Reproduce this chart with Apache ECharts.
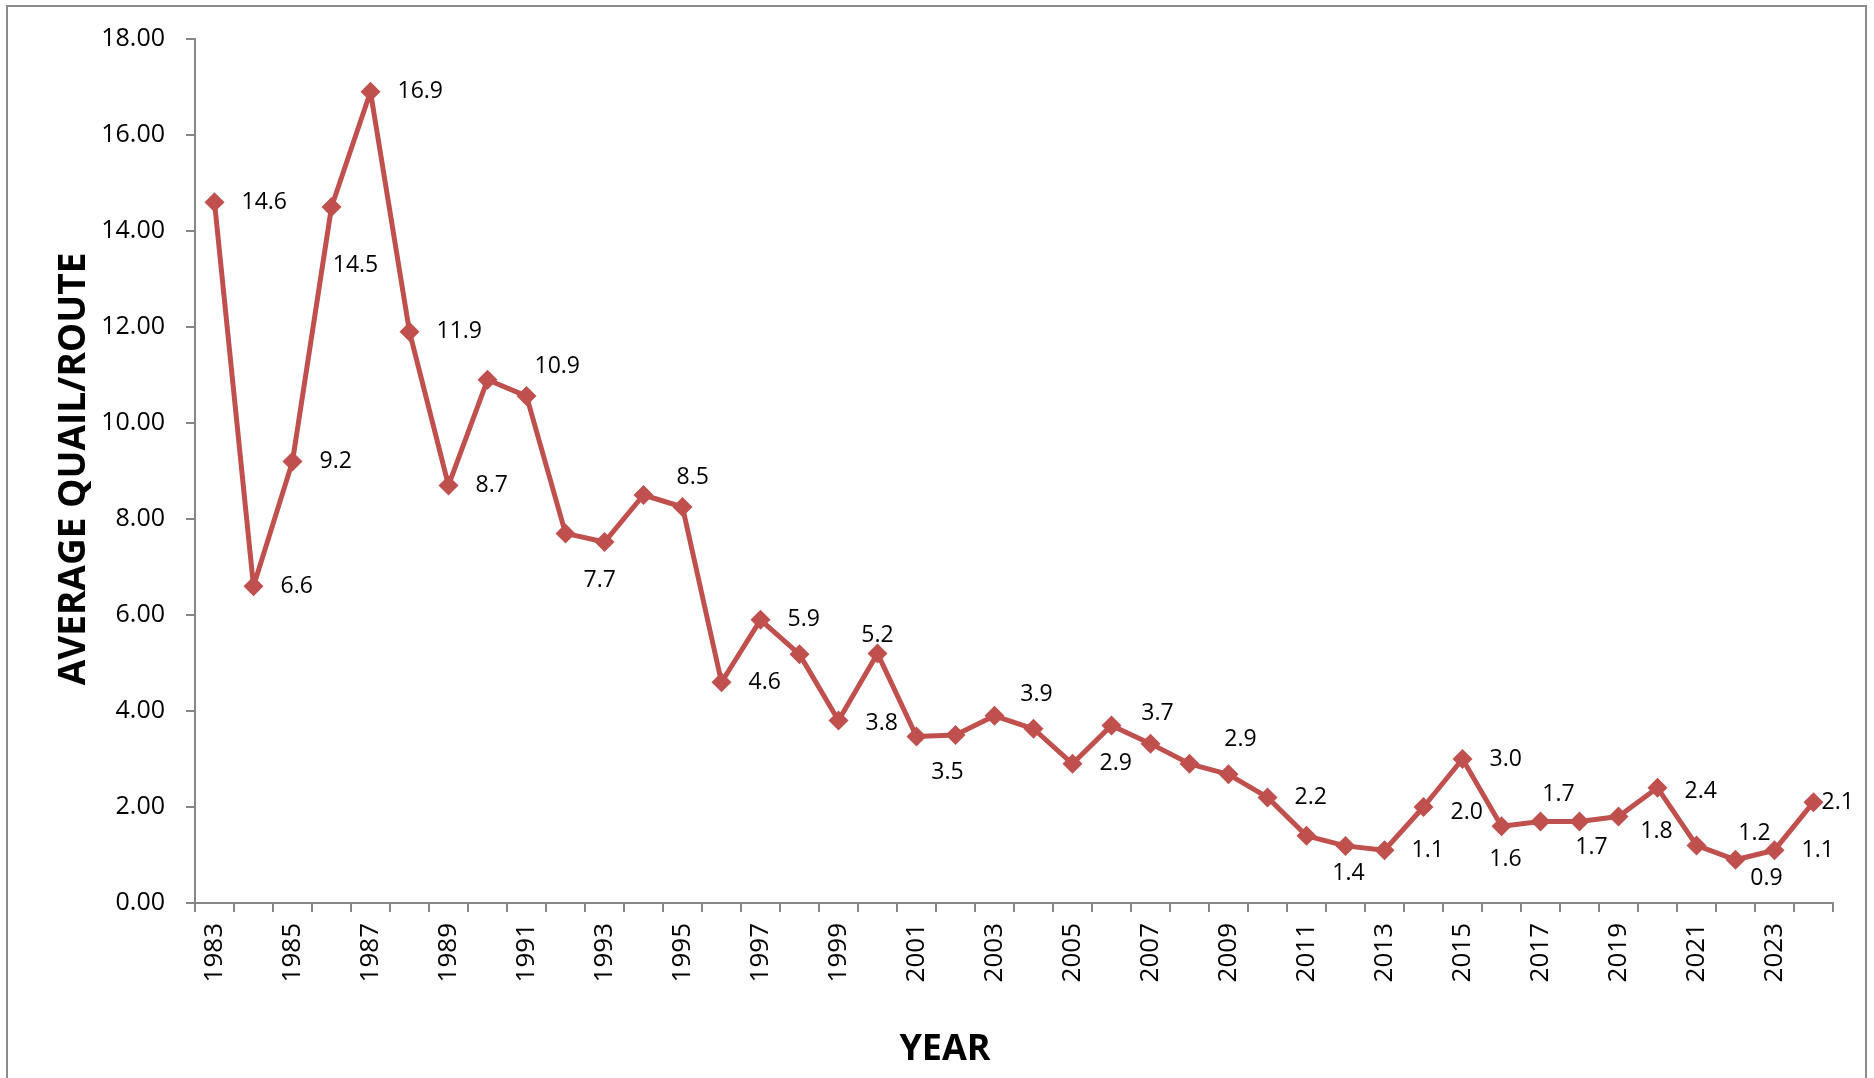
<!DOCTYPE html>
<html>
<head>
<meta charset="utf-8">
<title>Average Quail per Route</title>
<script src="https://cdn.jsdelivr.net/npm/echarts@6/dist/echarts.min.js"></script>
<style>
  html, body { margin: 0; padding: 0; background: #fff; }
  #chart { width: 1874px; height: 1078px; }
</style>
</head>
<body>
<div id="chart"></div>
<script>
// Survey years
const years = [
  '1983', '1984', '1985', '1986', '1987', '1988', '1989', '1990', '1991', '1992',
  '1993', '1994', '1995', '1996', '1997', '1998', '1999', '2000', '2001', '2002',
  '2003', '2004', '2005', '2006', '2007', '2008', '2009', '2010', '2011', '2012',
  '2013', '2014', '2015', '2016', '2017', '2018', '2019', '2020', '2021', '2022',
  '2023', '2024'
];

// Average number of quail counted per route
const quailPerRoute = [
  14.6, 6.6, 9.2, 14.5, 16.9, 11.9, 8.7, 10.9, 10.56, 7.7,
  7.52, 8.5, 8.25, 4.6, 5.9, 5.18, 3.8, 5.2, 3.47, 3.5,
  3.9, 3.63, 2.9, 3.7, 3.32, 2.9, 2.68, 2.2, 1.4, 1.19,
  1.1, 2.0, 3.0, 1.6, 1.7, 1.7, 1.8, 2.4, 1.2, 0.9,
  1.1, 2.1
];

// Years whose value is printed next to the marker
const labeledYears = [
  '1983', '1984', '1985', '1986', '1987', '1988', '1989', '1990', '1992', '1994',
  '1996', '1997', '1999', '2000', '2002', '2003', '2005', '2006', '2008', '2010',
  '2011', '2013', '2014', '2015', '2016', '2017', '2018', '2019', '2020', '2021',
  '2022', '2023', '2024'
];

// Y axis ticks
const yTicks = { min: 0, max: 18, step: 2 };

// Label placement relative to the marker centre (style only)
const labelPlacement = {
  default: { align: 'left', dx: 27, dy: 0 },
  '1986': { align: 'center', dx: 24, dy: 58 },
  '1990': { align: 'left', dx: 47, dy: -13 },
  '1992': { align: 'left', dx: 18, dy: 47 },
  '1994': { align: 'left', dx: 33, dy: -18 },
  '1999': { align: 'left', dx: 27, dy: 3 },
  '2000': { align: 'center', dx: 0, dy: -18 },
  '2002': { align: 'center', dx: -8, dy: 37 },
  '2003': { align: 'center', dx: 42, dy: -21 },
  '2006': { align: 'center', dx: 46, dy: -12 },
  '2008': { align: 'center', dx: 51, dy: -24 },
  '2011': { align: 'center', dx: 42, dy: 38 },
  '2014': { align: 'left', dx: 27, dy: 5 },
  '2016': { align: 'center', dx: 4, dy: 33 },
  '2017': { align: 'center', dx: 18, dy: -27 },
  '2018': { align: 'center', dx: 12, dy: 26 },
  '2019': { align: 'center', dx: 38, dy: 15 },
  '2020': { align: 'left', dx: 27, dy: 4 },
  '2021': { align: 'center', dx: 58, dy: -12 },
  '2022': { align: 'center', dx: 31, dy: 19 },
  '2024': { align: 'left', dx: 8, dy: 0 }
};

const FONT = "'Open Sans', 'Noto Sans', sans-serif";
const LINE_RED = '#C0504D';
const AXIS_GRAY = '#868686';

const seriesData = quailPerRoute.map((v, i) => {
  const year = years[i];
  if (labeledYears.indexOf(year) < 0) {
    return { value: v, label: { show: false } };
  }
  const p = labelPlacement[year] || labelPlacement.default;
  return {
    value: v,
    label: {
      show: true,
      position: 'inside',
      align: p.align,
      verticalAlign: 'middle',
      offset: [p.dx, p.dy],
      formatter: () => v.toFixed(1)
    }
  };
});

const chart = echarts.init(document.getElementById('chart'), null, { renderer: 'canvas' });

chart.setOption({
  animation: false,
  backgroundColor: '#ffffff',
  grid: { left: 195, right: 41, top: 39, bottom: 175, containLabel: false },
  xAxis: {
    type: 'category',
    data: years,
    boundaryGap: true,
    axisLine: { show: true, lineStyle: { color: AXIS_GRAY, width: 2 } },
    axisTick: { show: true, interval: 0, length: 9, lineStyle: { color: AXIS_GRAY, width: 2 } },
    axisLabel: {
      interval: 1,
      rotate: 90,
      margin: 20,
      color: '#000',
      fontFamily: FONT,
      fontSize: 26
    },
    splitLine: { show: false }
  },
  yAxis: {
    type: 'value',
    min: yTicks.min,
    max: yTicks.max,
    interval: yTicks.step,
    axisLine: { show: true, lineStyle: { color: AXIS_GRAY, width: 2 } },
    axisTick: { show: true, length: 9, lineStyle: { color: AXIS_GRAY, width: 2 } },
    axisLabel: {
      margin: 30,
      color: '#000',
      fontFamily: FONT,
      fontSize: 25,
      formatter: (v) => v.toFixed(2)
    },
    splitLine: { show: false }
  },
  series: [{
    type: 'line',
    data: seriesData,
    symbol: 'diamond',
    symbolSize: 20,
    showAllSymbol: true,
    itemStyle: { color: LINE_RED },
    lineStyle: { color: LINE_RED, width: 5 },
    label: {
      color: '#000',
      fontFamily: FONT,
      fontSize: 23
    },
    emphasis: { disabled: true }
  }],
  graphic: [
    {
      type: 'rect',
      shape: { x: 7, y: 6, width: 1859, height: 1120 },
      style: { fill: 'none', stroke: '#8c8c8c', lineWidth: 2 },
      silent: true
    },
    {
      type: 'text',
      x: 74,
      y: 469,
      rotation: Math.PI / 2,
      style: {
        text: 'AVERAGE QUAIL/ROUTE',
        font: "bold 37px 'Open Sans', 'Noto Sans', sans-serif",
        fill: '#000',
        align: 'center',
        verticalAlign: 'middle',
        textAlign: 'center',
        textVerticalAlign: 'middle'
      },
      silent: true
    },
    {
      type: 'text',
      x: 945,
      y: 1050,
      style: {
        text: 'YEAR',
        font: "bold 36px 'Open Sans', 'Noto Sans', sans-serif",
        fill: '#000',
        align: 'center',
        verticalAlign: 'middle',
        textAlign: 'center',
        textVerticalAlign: 'middle'
      },
      silent: true
    }
  ]
});
</script>
</body>
</html>
